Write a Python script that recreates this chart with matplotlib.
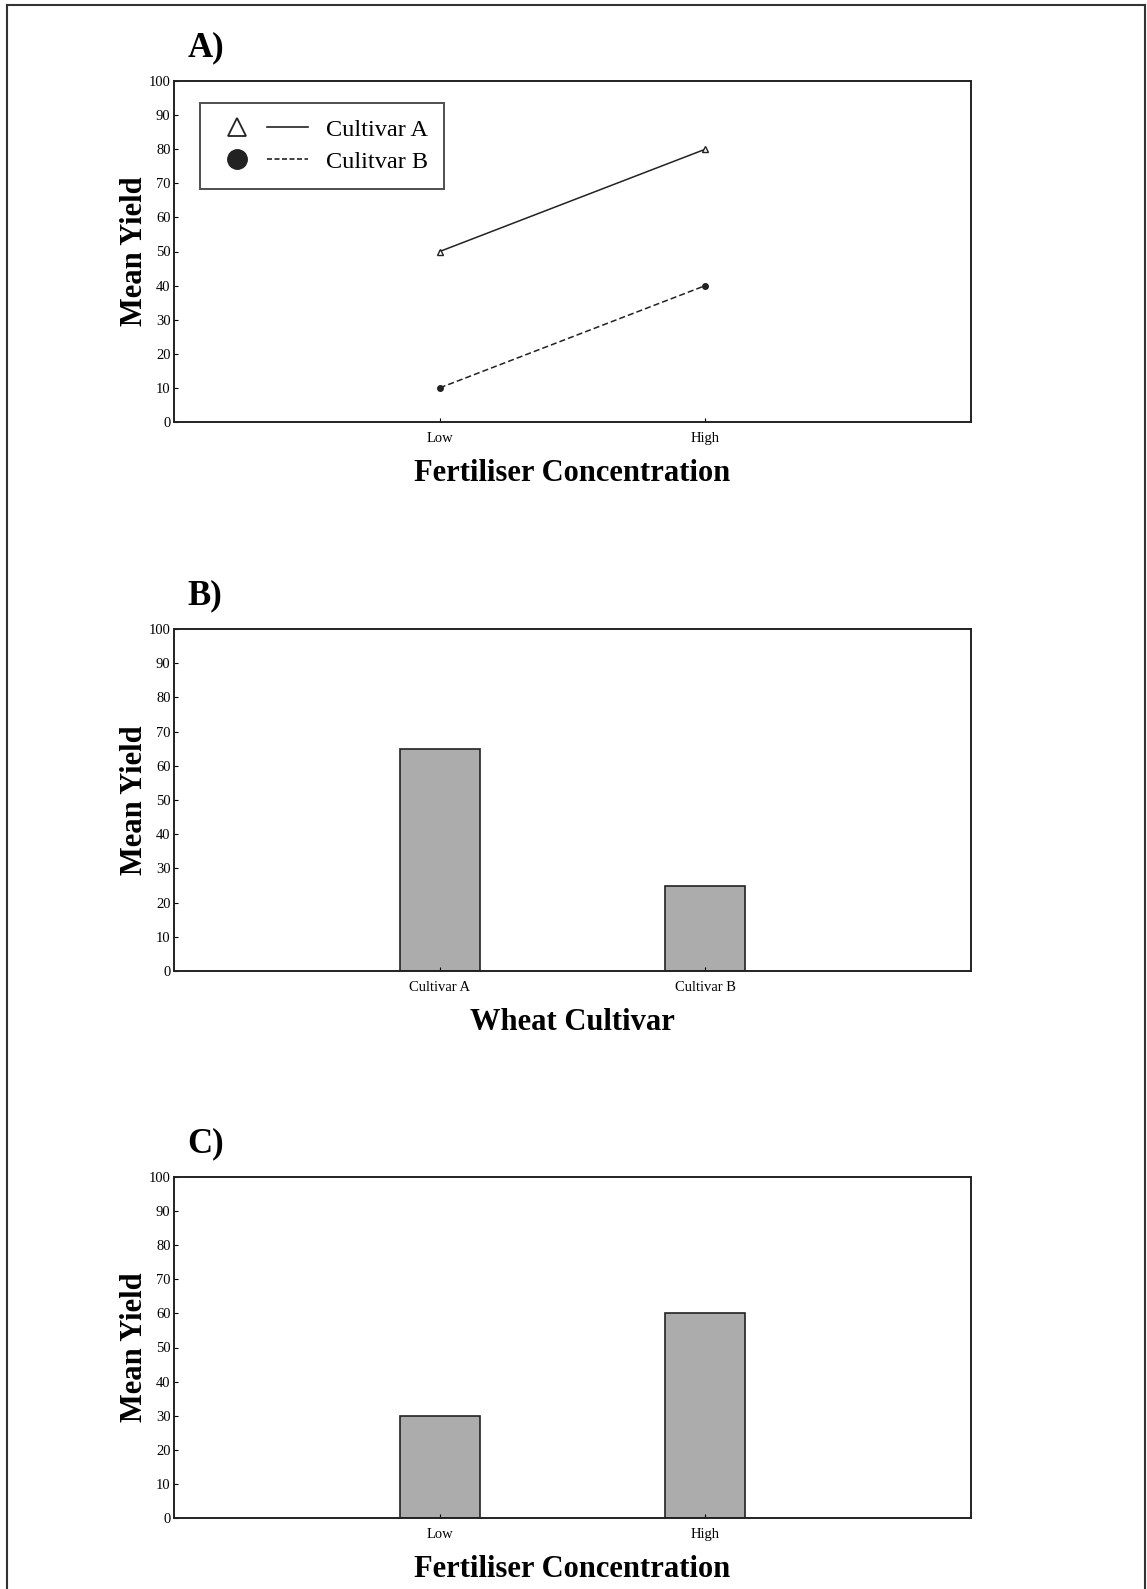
"""Three-panel yield figure: interaction line plot plus two main-effect bar charts."""

import matplotlib

matplotlib.use("Agg")
import matplotlib.pyplot as plt
from matplotlib.legend_handler import HandlerTuple
from matplotlib.lines import Line2D

plt.rcParams.update(
    {
        "font.family": ["Liberation Serif", "DejaVu Serif"],
        "axes.edgecolor": "#222222",
        "axes.linewidth": 1.4,
    }
)

# Panel A: cultivar x fertiliser interaction
FERT_LEVELS = ["Low", "High"]
CULTIVAR_A_YIELD = [50, 80]
CULTIVAR_B_YIELD = [10, 40]

# Panel B: main effect of cultivar
CULTIVARS = ["Cultivar A", "Cultivar B"]
CULTIVAR_MEANS = [65, 25]

# Panel C: main effect of fertiliser
FERT_MEANS = [30, 60]

Y_TICKS = list(range(0, 101, 10))
BAR_COLOR = "#acacac"
LABEL_FS = 22
TICK_FS = 10.5

W, H = 1147, 1589
fig = plt.figure(figsize=(W / 100, H / 100), dpi=100)


def ax_rect(top_px, bottom_px):
    left, right = 174, 971
    return [left / W, 1 - bottom_px / H, (right - left) / W, (bottom_px - top_px) / H]


def style_axes(ax, labels, xlabel, tag):
    ax.set_xlim(0, 3)
    ax.set_ylim(0, 100)
    ax.set_yticks(Y_TICKS)
    ax.set_xticks([1, 2])
    ax.set_xticklabels(labels)
    ax.tick_params(axis="both", direction="in", length=3, width=0.8, labelsize=TICK_FS)
    ax.tick_params(axis="x", pad=7)
    ax.tick_params(axis="y", pad=2.5)
    ax.set_ylabel("Mean Yield", fontsize=LABEL_FS, fontweight="bold", labelpad=0)
    ax.set_xlabel(xlabel, fontsize=LABEL_FS, fontweight="bold", labelpad=10)
    ax.text(0.017, 1.05, tag, transform=ax.transAxes, ha="left", va="bottom",
            fontsize=25, fontweight="bold")


# Panel A
ax_a = fig.add_axes(ax_rect(81, 422))
x_pos = [1, 2]
ax_a.plot(x_pos, CULTIVAR_A_YIELD, color="#222222", linewidth=1.1, marker="^",
          markersize=5, markerfacecolor="white", markeredgecolor="#222222")
ax_a.plot(x_pos, CULTIVAR_B_YIELD, color="#222222", linewidth=1.1, linestyle=(0, (4, 2)),
          marker="o", markersize=4, markerfacecolor="#222222")
style_axes(ax_a, FERT_LEVELS, "Fertiliser Concentration", "A)")

h_a = (Line2D([], [], linestyle="none", marker="^", markersize=13,
              markerfacecolor="white", markeredgecolor="#222222", markeredgewidth=1.3),
       Line2D([], [], color="#222222", linewidth=1.2))
h_b = (Line2D([], [], linestyle="none", marker="o", markersize=14,
              markerfacecolor="#222222", markeredgecolor="#222222"),
       Line2D([], [], color="#222222", linewidth=1.2, linestyle=(0, (3, 1.5))))
leg = ax_a.legend(
    [h_a, h_b],
    ["Cultivar A", "Culitvar B"],
    handler_map={tuple: HandlerTuple(ndivide=None, pad=0.38)},
    handlelength=3.77,
    handletextpad=0.76,
    loc="upper left",
    bbox_to_anchor=(0.033, 0.935),
    borderaxespad=0,
    fontsize=17.5,
    frameon=True,
    fancybox=False,
    borderpad=0.65,
    labelspacing=0.4,
)
leg.get_frame().set_edgecolor("#222222")
leg.get_frame().set_linewidth(1.4)

# Panel B
ax_b = fig.add_axes(ax_rect(629, 971))
ax_b.bar([1, 2], CULTIVAR_MEANS, width=0.3, color=BAR_COLOR, edgecolor="#222222", linewidth=1.2)
style_axes(ax_b, CULTIVARS, "Wheat Cultivar", "B)")

# Panel C
ax_c = fig.add_axes(ax_rect(1177, 1518))
ax_c.bar([1, 2], FERT_MEANS, width=0.3, color=BAR_COLOR, edgecolor="#222222", linewidth=1.2)
style_axes(ax_c, FERT_LEVELS, "Fertiliser Concentration", "C)")

# Outer frame (bottom edge is cut off in the original scan)
frame_kw = dict(transform=fig.transFigure, color="#333333", linewidth=1.5)
fig.add_artist(Line2D([7 / W, 7 / W], [0, 1 - 5 / H], **frame_kw))
fig.add_artist(Line2D([7 / W, 1145 / W], [1 - 5 / H, 1 - 5 / H], **frame_kw))
fig.add_artist(Line2D([1145 / W, 1145 / W], [0, 1 - 5 / H], **frame_kw))

fig.savefig("out.png", dpi=100)
